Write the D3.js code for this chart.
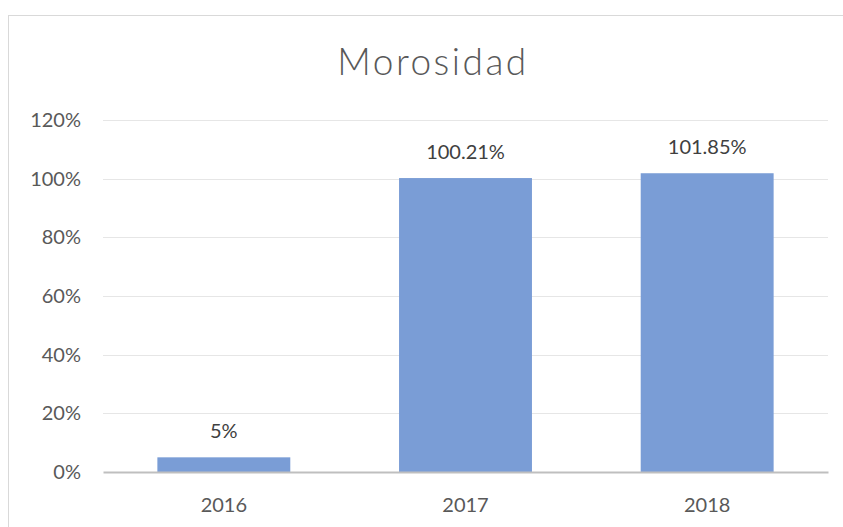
<!DOCTYPE html>
<html>
<head>
<meta charset="utf-8">
<script src="https://cdn.jsdelivr.net/npm/d3@7"></script>
<style>
  body { margin: 0; background: #fff; }
  svg { display: block; }
</style>
</head>
<body>
<svg id="chart"></svg>
<script>
// chart data
const years = ["2016", "2017", "2018"];
const morosidad = [5, 100.21, 101.85];
const labels = ["5%", "100.21%", "101.85%"];
const yTicks = [0, 20, 40, 60, 80, 100, 120];

const width = 843, height = 527;
const margin = { top: 120, bottom: 55, left: 103, right: 15 };
const font = "Lato, 'Open Sans', sans-serif";
const textColor = "#595959";

const svg = d3.select("#chart")
    .attr("width", width)
    .attr("height", height);

// outer chart border (runs off the right and bottom edge)
svg.append("rect")
    .attr("x", 8.5)
    .attr("y", 15.5)
    .attr("width", 900)
    .attr("height", 600)
    .attr("fill", "#fff")
    .attr("stroke", "#d9d9d9")
    .attr("stroke-width", 1);

const x = d3.scaleBand()
    .domain(years)
    .range([margin.left, width - margin.right])
    .paddingInner(0.45)
    .paddingOuter(0.225);

const y = d3.scaleLinear()
    .domain([0, 120])
    .range([472, 120]);

// title
svg.append("text")
    .attr("x", 433)
    .attr("y", 75)
    .attr("text-anchor", "middle")
    .style("font-family", font)
    .style("font-weight", 300)
    .style("font-size", "37px")
    .style("letter-spacing", "2.5px")
    .style("fill", textColor)
    .text("Morosidad");

// gridlines
svg.append("g")
    .selectAll("line")
    .data(yTicks.filter(d => d > 0))
    .join("line")
    .attr("x1", margin.left)
    .attr("x2", width - margin.right)
    .attr("y1", d => Math.round(y(d)) + 0.5)
    .attr("y2", d => Math.round(y(d)) + 0.5)
    .attr("stroke", "#e6e6e6")
    .attr("stroke-width", 1);

// y axis labels
const yAxis = d3.axisLeft(y)
    .tickValues(yTicks)
    .tickFormat(d => d + "%")
    .tickSize(0)
    .tickPadding(0);

svg.append("g")
    .attr("transform", "translate(81,0)")
    .call(yAxis)
    .call(g => g.select(".domain").remove())
    .selectAll("text")
    .style("font-family", font)
    .style("font-size", "20px")
    .style("fill", textColor);

// bars
svg.append("g")
    .selectAll("rect")
    .data(morosidad)
    .join("rect")
    .attr("x", (d, i) => x(years[i]))
    .attr("y", d => y(d))
    .attr("width", x.bandwidth())
    .attr("height", d => y(0) - y(d))
    .attr("fill", "#7a9dd6");

// data labels
svg.append("g")
    .selectAll("text")
    .data(morosidad)
    .join("text")
    .attr("x", (d, i) => x(years[i]) + x.bandwidth() / 2)
    .attr("y", d => y(d) - 19)
    .attr("text-anchor", "middle")
    .style("font-family", font)
    .style("font-size", "20px")
    .style("fill", "#404040")
    .text((d, i) => labels[i]);

// x axis
const xAxis = d3.axisBottom(x)
    .tickSize(0)
    .tickPadding(26);

svg.append("g")
    .attr("transform", `translate(0,${y(0)})`)
    .call(xAxis)
    .call(g => g.select(".domain").attr("stroke", "#bfbfbf").attr("stroke-width", 2))
    .selectAll("text")
    .style("font-family", font)
    .style("font-size", "20px")
    .style("fill", textColor);
</script>
</body>
</html>
